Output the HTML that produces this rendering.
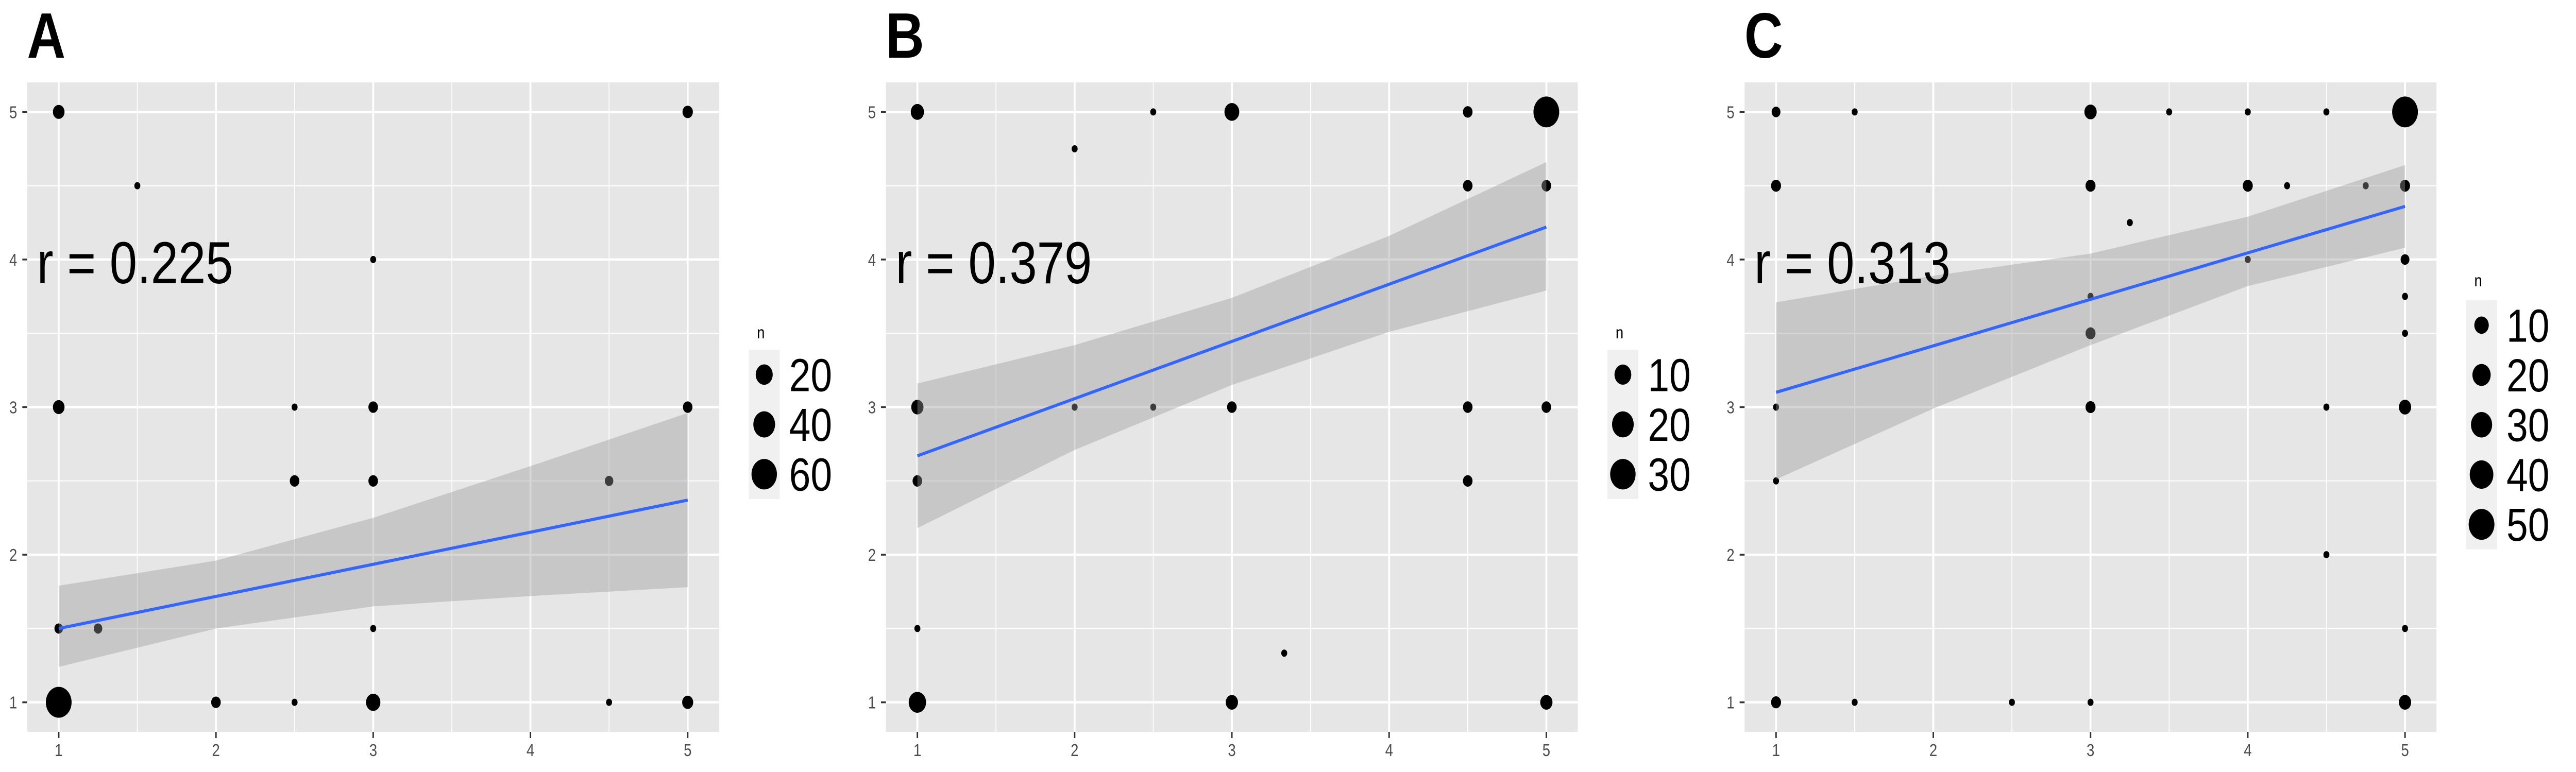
<!DOCTYPE html>
<html><head><meta charset="utf-8">
<style>
html,body{margin:0;padding:0;background:#fff;width:100vw;height:100vh;overflow:hidden;}
svg{display:block;width:100vw;height:100vh;font-family:"Liberation Sans",Arial,sans-serif;}
</style></head>
<body>
<svg id="fig" viewBox="0 0 6000 1499" preserveAspectRatio="none" xmlns="http://www.w3.org/2000/svg"></svg>
<script>
// ---- data ----
const panelLabels = ["A","B","C"];
const rLabels = ["r = 0.225","r = 0.379","r = 0.313"];
const xTicks = [1,2,3,4,5];
const yTicks = [1,2,3,4,5];
// Panel A points
const aX = [1,5,1.5,3,1,2.5,3,5,2.5,3,4.5,1,1.25,3,1,2,2.5,3,4.5,5];
const aY = [5,5,4.5,4,3,3,3,3,2.5,2.5,2.5,1.5,1.5,1.5,1,1,1,1,1,1];
const aN = [6,4,1,1,6,1,3,3,3,3,2,2,2,1,62,3,1,12,1,5];
// Panel B points
const bX = [1,2.5,3,4.5,5,2,4.5,5,1,2,2.5,3,4.5,5,1,4.5,1,3.333,1,3,5];
const bY = [5,5,5,5,5,4.75,4.5,4.5,3,3,3,3,3,3,2.5,2.5,1.5,1.333,1,1,1];
const bN = [5,1,7,2,31,1,2,2,4,1,1,2,2,2,2,2,1,1,11,4,4];
// Panel C points
const cX = [1,1.5,3,3.5,4,4.5,5,1,3,4,4.25,4.75,5,3.25,4,5,3,5,3,5,1,3,4.5,5,1,4.5,5,1,1.5,2.5,3,5];
const cY = [5,5,5,5,5,5,5,4.5,4.5,4.5,4.5,4.5,4.5,4.25,4,4,3.75,3.75,3.5,3.5,3,3,3,3,2.5,2,1.5,1,1,1,1,1];
const cN = [2,1,6,1,1,1,50,3,3,3,1,1,3,1,1,2,1,1,3,1,1,3,1,6,1,1,1,3,1,1,1,6];
// fit lines (y at x=1 and x=5)
const fitStart = [1.50,2.67,3.10];
const fitEnd = [2.37,4.22,4.36];
// confidence ribbons at x = 1..5
const ribX = [1,2,3,4,5];
const aUp = [1.79,1.96,2.25,2.60,2.96];
const aLo = [1.24,1.50,1.65,1.72,1.78];
const bUp = [3.16,3.42,3.74,4.16,4.66];
const bLo = [2.18,2.71,3.15,3.51,3.79];
const cUp = [3.71,3.89,4.04,4.29,4.64];
const cLo = [2.51,2.99,3.42,3.82,4.08];
// legend breaks
const aBreaks = [20,40,60];
const bBreaks = [10,20,30];
const cBreaks = [10,20,30,40,50];

const NS="http://www.w3.org/2000/svg";
const svg=document.getElementById('fig');
function mk(tag,attrs,parent){const e=document.createElementNS(NS,tag);for(const k in attrs)e.setAttribute(k,attrs[k]);(parent||svg).appendChild(e);return e;}

const panels=[
 {xs:aX,ys:aY,ns:aN,up:aUp,lo:aLo,br:aBreaks,legTop:679,titleBase:657},
 {xs:bX,ys:bY,ns:bN,up:bUp,lo:bLo,br:bBreaks,legTop:679,titleBase:657},
 {xs:cX,ys:cY,ns:cN,up:cUp,lo:cLo,br:cBreaks,legTop:583,titleBase:556}
];
const L=63.5,R=1675,T=160,B=1421;
const RMIN=7,RMAX=30;

panels.forEach((p,i)=>{
  const ox=i*2000;
  const g=mk('g',{transform:`translate(${ox},0)`});
  
  
  const sx=v=>L+(v-0.8)/4.4*(R-L);
  const sy=v=>B-(v-0.8)/4.4*(B-T);
  const nmax=Math.max(...p.ns);
  const rad=n=>RMIN+(RMAX-RMIN)*Math.sqrt(Math.max(0,n-1)/(nmax-1));

  const lab=mk('text',{x:63,y:112,'font-size':124,'font-weight':'bold',fill:'#000'},g);
  lab.textContent=panelLabels[i];
  
  

  const bg=mk('rect',{x:L,y:T,width:R-L,height:B-T,fill:'#e6e6e6'},g);
  
  
  [1.5,2.5,3.5,4.5].forEach(v=>{
    mk('line',{x1:L,x2:R,y1:sy(v),y2:sy(v),stroke:'#fff','stroke-width':2},g);
    mk('line',{y1:T,y2:B,x1:sx(v),x2:sx(v),stroke:'#fff','stroke-width':2},g);
  });
  yTicks.forEach(v=>{
    const gl=mk('line',{x1:L,x2:R,y1:sy(v),y2:sy(v),stroke:'#fff','stroke-width':4.5},g);
    
    
    mk('line',{x1:52,x2:L,y1:sy(v),y2:sy(v),stroke:'#333','stroke-width':3.5},g);
    const t=mk('text',{x:40,y:sy(v)+12,'font-size':33,fill:'#4d4d4d','text-anchor':'end'},g);
    t.textContent=v;
    
    
  });
  xTicks.forEach(v=>{
    const gl=mk('line',{y1:T,y2:B,x1:sx(v),x2:sx(v),stroke:'#fff','stroke-width':4.5},g);
    
    
    mk('line',{y1:B,y2:1433,x1:sx(v),x2:sx(v),stroke:'#333','stroke-width':3.5},g);
    const t=mk('text',{x:sx(v),y:1468,'font-size':33,fill:'#4d4d4d','text-anchor':'middle'},g);
    t.textContent=v;
    
    
  });
  p.xs.forEach((x,k)=>{
    const c=mk('circle',{cx:sx(x),cy:sy(p.ys[k]),r:rad(p.ns[k]),fill:'#000'},g);
    
    
  });
  let d='';
  ribX.forEach((x,k)=>{d+=(k?'L':'M')+sx(x)+','+sy(p.up[k]);});
  for(let k=ribX.length-1;k>=0;k--)d+='L'+sx(ribX[k])+','+sy(p.lo[k]);
  const rb=mk('path',{d:d+'Z',fill:'#999','fill-opacity':0.4},g);
  
  
  const fl=mk('line',{x1:sx(1),y1:sy(fitStart[i]),x2:sx(5),y2:sy(fitEnd[i]),stroke:'#3366ff','stroke-width':6},g);
  
  
  const rt=mk('text',{x:86,y:550,'font-size':115,fill:'#000'},g);
  rt.textContent=rLabels[i];
  
  
  const lt=mk('text',{x:1763,y:p.titleBase,'font-size':33,fill:'#000'},g);
  lt.textContent='n';
  
  
  const kh=96.7;
  const lb=mk('rect',{x:1744,y:p.legTop,width:72,height:kh*p.br.length,fill:'#f0f0f0'},g);
  
  
  p.br.forEach((b,k)=>{
    const cy=p.legTop+kh*(k+0.5);
    const c=mk('circle',{cx:1780,cy:cy,r:rad(b),fill:'#000'},g);
    
    
    const t=mk('text',{x:1838,y:cy+32,'font-size':90,fill:'#000'},g);
    t.textContent=b;
    
    
  });
});
</script>
</body></html>
